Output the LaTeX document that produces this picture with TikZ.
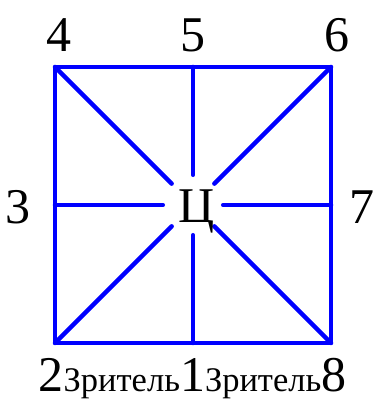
\documentclass[tikz,border=0pt]{standalone}
\usepackage{fontspec}
\setmainfont{Liberation Serif}
\begin{document}
\begin{tikzpicture}[x=1pt,y=1pt,
  edge/.style={draw={rgb,255:red,0;green,0;blue,255},line width=4.5pt,line cap=round,line join=round},
  big/.style={font=\fontsize{50}{60}\selectfont,inner sep=0pt,anchor=base}]
\useasboundingbox (0,0) rectangle (373,399);
\coordinate (p4) at (55,332);
\coordinate (p5) at (193,332);
\coordinate (p6) at (331,332);
\coordinate (p3) at (55,194);
\coordinate (p7) at (331,194);
\coordinate (p2) at (55,56);
\coordinate (p1) at (193,56);
\coordinate (p8) at (331,56);
\node[circle,minimum size=60pt,inner sep=0pt] (c) at (193,194) {};
\draw[edge] (p4) -- (p6) -- (p8) -- (p2) -- cycle;
\foreach \p in {p1,p2,p3,p4,p5,p6,p7,p8} \draw[edge] (\p) -- (c);
\node[big] (l4) at (59,347) {4};
\node[big] (l5) at (193,347) {5};
\node[big] (l6) at (337,347) {6};
\node[big] (l3) at (18,175) {3};
\node[big] (l7) at (362,175) {7};
\node[big] (lc) at (197,176) {Ц};
\node[big] (lb) at (192.5,8) {2{\fontsize{34.5}{40}\selectfont Зритель}1{\fontsize{34.5}{40}\selectfont Зритель}8};
\end{tikzpicture}
\end{document}
